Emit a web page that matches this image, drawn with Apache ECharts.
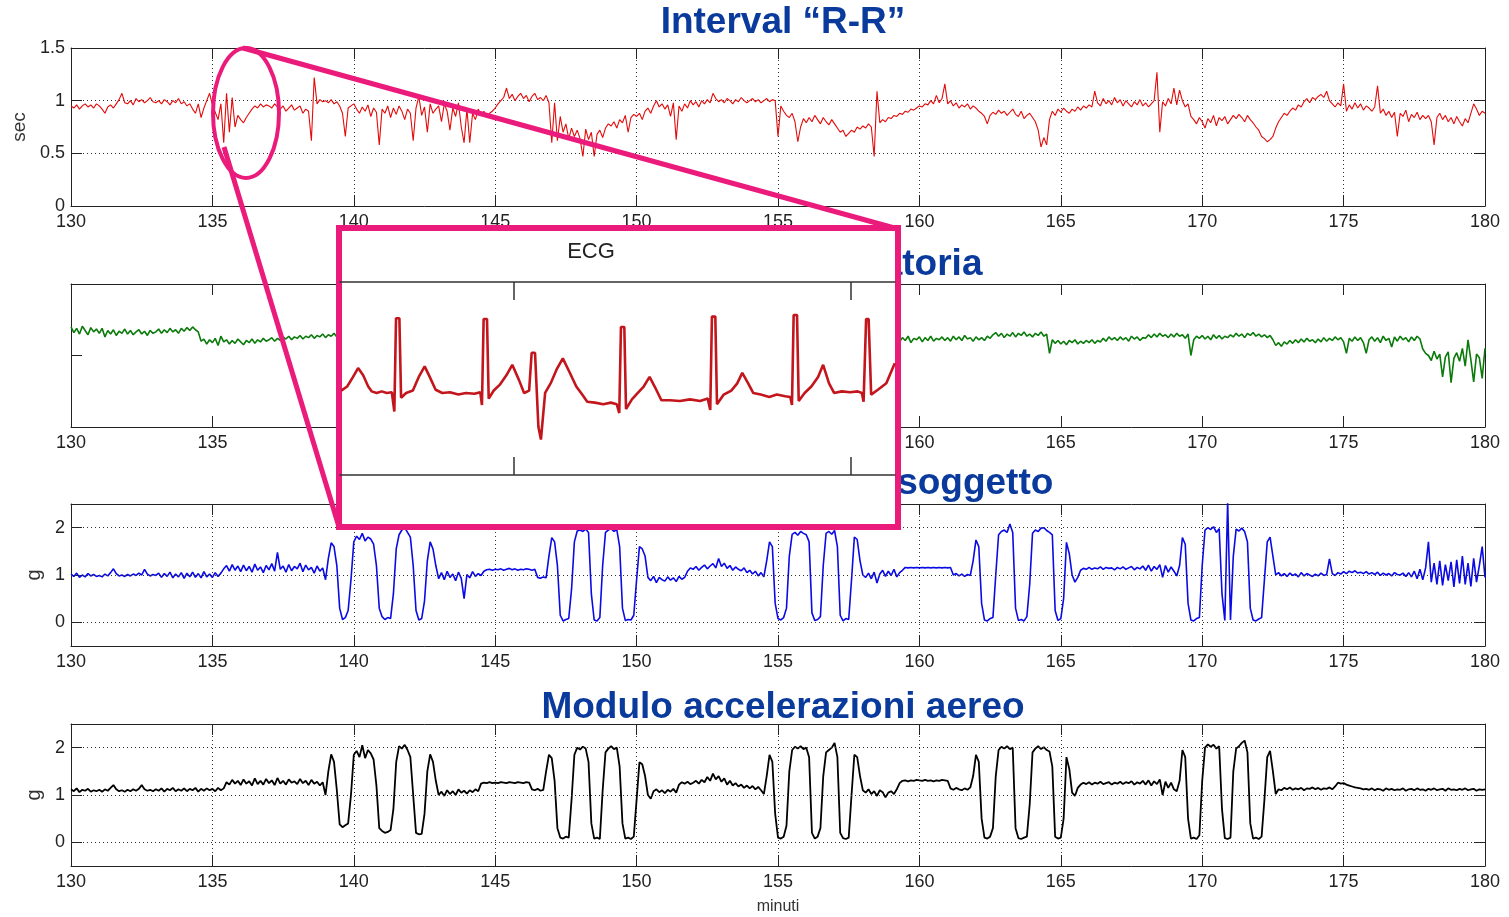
<!DOCTYPE html>
<html><head><meta charset="utf-8">
<script src="https://cdn.jsdelivr.net/npm/echarts@6/dist/echarts.min.js"></script>
<style>html,body{margin:0;padding:0;background:#fff}#c{width:1509px;height:917px}</style>
</head><body><div id="c"></div>
<script>
// ---- sampling of the long recordings (minutes) ----
const T0 = 130, STEP = 0.1;
const X_MIN = 130, X_MAX = 180, X_INTERVAL = 5;

// Interval R-R (sec)
const RR = [
0.95,0.93,0.96,0.92,0.95,0.97,0.94,0.96,0.93,0.97,
0.95,0.92,0.88,0.94,0.96,0.93,0.97,1.01,1.07,0.98,
0.97,1.00,0.96,1.02,0.99,1.01,0.98,1.00,1.03,0.99,
0.98,1.00,0.97,1.01,0.99,0.96,1.00,0.98,1.02,0.97,
0.99,0.95,0.97,0.92,0.88,0.97,0.84,0.93,1.00,1.07,
0.96,0.89,0.82,0.97,0.60,1.07,0.70,1.03,0.75,0.86,
0.82,0.79,0.84,0.88,0.92,0.95,0.93,0.97,0.94,0.96,
0.95,0.93,0.97,0.94,0.92,0.95,0.90,0.93,0.96,0.91,
0.93,0.95,0.88,0.92,0.90,0.62,1.22,0.97,1.01,0.99,
1.00,0.98,1.01,0.97,0.99,0.95,0.88,0.66,0.93,0.95,
0.97,0.92,0.88,0.94,0.90,0.96,0.85,0.93,0.89,0.58,
0.92,0.88,0.95,0.84,0.93,0.87,0.95,0.90,0.82,0.92,
0.88,0.62,0.93,1.04,0.86,0.94,0.70,0.97,0.88,0.92,
0.95,0.80,0.97,0.90,0.72,0.93,0.85,0.98,0.75,0.60,
0.92,0.60,0.88,0.82,0.92,0.86,0.90,0.84,0.88,0.90,
0.93,0.97,1.00,1.03,1.12,1.02,1.06,1.00,1.04,1.07,
1.02,1.05,0.99,1.04,1.07,1.01,1.03,1.00,1.05,0.98,
0.60,0.98,0.62,0.85,0.70,0.78,0.64,0.74,0.66,0.72,
0.64,0.47,0.73,0.63,0.70,0.47,0.68,0.72,0.65,0.74,
0.78,0.76,0.80,0.74,0.82,0.79,0.86,0.70,0.84,0.87,
0.85,0.88,0.82,0.90,0.93,0.88,0.95,1.00,0.94,0.97,
0.92,0.96,0.85,0.98,0.63,0.95,0.90,0.97,0.93,1.00,
0.96,0.99,0.94,1.00,0.97,1.01,0.98,1.07,1.02,0.99,
1.01,0.98,1.02,1.00,0.97,1.01,0.99,1.03,1.00,0.98,
1.00,1.02,0.99,1.01,0.98,1.00,1.02,0.99,1.01,1.00,
0.66,0.95,0.90,0.86,0.84,0.88,0.80,0.61,0.75,0.83,
0.79,0.84,0.80,0.86,0.82,0.78,0.84,0.80,0.77,0.82,
0.78,0.74,0.70,0.72,0.66,0.69,0.72,0.70,0.75,0.73,
0.76,0.74,0.78,0.75,0.47,1.09,0.79,0.82,0.80,0.84,
0.83,0.86,0.85,0.88,0.87,0.90,0.89,0.92,0.91,0.93,
0.95,0.94,0.97,0.96,1.00,0.97,1.05,0.98,1.02,1.16,
0.97,1.00,0.95,0.98,0.93,0.96,0.94,0.97,0.92,0.95,
0.93,0.90,0.88,0.85,0.78,0.86,0.89,0.87,0.91,0.88,
0.90,0.86,0.89,0.92,0.87,0.85,0.90,0.83,0.86,0.88,
0.84,0.80,0.72,0.56,0.65,0.58,0.82,0.90,0.86,0.92,
0.89,0.93,0.90,0.88,0.92,0.90,0.94,0.91,0.95,0.93,
0.96,0.94,1.09,0.98,0.95,1.02,0.97,1.00,0.96,1.03,
0.98,1.01,0.95,1.00,0.97,0.94,0.99,0.96,1.01,0.95,
0.98,0.94,0.97,1.00,1.27,0.70,0.99,0.95,1.02,0.97,
1.12,0.96,1.10,1.00,0.94,0.97,0.85,0.82,0.78,0.84,
0.80,0.74,0.83,0.79,0.86,0.76,0.84,0.81,0.85,0.78,
0.82,0.86,0.83,0.87,0.84,0.80,0.86,0.82,0.79,0.75,
0.72,0.66,0.64,0.61,0.63,0.66,0.74,0.80,0.84,0.88,
0.86,0.90,0.93,0.91,0.96,0.94,0.99,1.02,0.98,1.03,
1.01,1.04,1.06,1.03,1.09,1.00,0.97,0.94,0.98,0.95,
1.16,0.90,0.96,0.92,0.98,0.93,0.97,0.91,0.95,0.93,
0.90,0.94,1.14,0.88,0.92,0.86,0.90,0.84,0.89,0.66,
0.88,0.85,0.91,0.80,0.87,0.84,0.89,0.82,0.86,0.83,
0.86,0.80,0.58,0.84,0.88,0.82,0.86,0.80,0.84,0.78,
0.85,0.80,0.76,0.83,0.79,0.88,0.97,0.92,0.86,0.90,
0.88];

// Respiratory signal (arbitrary units)
const RESP = [
1.40,1.32,1.38,1.30,1.41,1.35,1.29,1.39,1.33,1.37,
1.31,1.38,1.26,1.35,1.30,1.36,1.28,1.34,1.31,1.37,
1.30,1.35,1.29,1.33,1.36,1.30,1.34,1.28,1.35,1.31,
1.33,1.37,1.31,1.36,1.32,1.38,1.33,1.36,1.31,1.38,
1.34,1.39,1.35,1.40,1.36,1.33,1.20,1.23,1.16,1.22,
1.18,1.24,1.14,1.27,1.19,1.22,1.16,1.21,1.17,1.23,
1.19,1.15,1.21,1.18,1.23,1.17,1.22,1.19,1.24,1.20,
1.22,1.25,1.20,1.24,1.21,1.26,1.23,1.27,1.22,1.26,
1.24,1.28,1.23,1.27,1.25,1.29,1.24,1.28,1.26,1.30,
1.25,1.29,1.27,1.31,1.26,1.30,1.28,1.26,1.30,1.27,
1.29,1.26,1.31,1.27,1.30,1.25,1.29,1.27,1.32,1.28,
1.30,1.26,1.29,1.31,1.27,1.30,1.26,1.29,1.32,1.28,
1.27,1.30,1.25,1.29,1.31,1.26,1.28,1.30,1.25,1.29,
1.31,1.27,1.29,1.26,1.30,1.28,1.32,1.27,1.29,1.31,
1.28,1.25,1.29,1.27,1.30,1.26,1.28,1.31,1.27,1.29,
1.26,1.30,1.28,1.25,1.29,1.27,1.31,1.28,1.26,1.30,
1.27,1.29,1.25,1.28,1.30,1.26,1.29,1.27,1.31,1.28,
1.25,1.29,1.27,1.30,1.26,1.28,1.24,1.29,1.27,1.25,
1.28,1.26,1.30,1.25,1.27,1.29,1.26,1.28,1.24,1.27,
1.29,1.25,1.28,1.26,1.30,1.27,1.25,1.29,1.26,1.28,
1.24,1.27,1.29,1.25,1.28,1.26,1.23,1.27,1.25,1.29,
1.26,1.24,1.28,1.25,1.27,1.23,1.26,1.28,1.24,1.27,
1.25,1.28,1.23,1.26,1.24,1.27,1.25,1.22,1.26,1.24,
1.27,1.23,1.25,1.28,1.24,1.26,1.22,1.25,1.27,1.23,
1.26,1.24,1.21,1.25,1.23,1.27,1.24,1.22,1.26,1.23,
1.25,1.21,1.24,1.26,1.22,1.25,1.23,1.20,1.24,1.22,
1.26,1.23,1.21,1.25,1.22,1.24,1.20,1.23,1.25,1.21,
1.24,1.22,1.25,1.20,1.23,1.21,1.24,1.22,1.19,1.23,
1.21,1.24,1.20,1.23,1.21,1.25,1.22,1.19,1.23,1.21,
1.24,1.20,1.26,1.19,1.25,1.21,1.27,1.18,1.24,1.22,
1.26,1.19,1.25,1.21,1.27,1.20,1.24,1.22,1.26,1.21,
1.25,1.20,1.27,1.22,1.26,1.21,1.28,1.23,1.25,1.20,
1.26,1.22,1.25,1.21,1.27,1.24,1.29,1.32,1.27,1.31,
1.25,1.30,1.27,1.32,1.26,1.31,1.28,1.33,1.27,1.30,
1.26,1.31,1.28,1.33,1.27,1.30,1.03,1.22,1.17,1.21,
1.16,1.20,1.15,1.21,1.18,1.22,1.16,1.20,1.17,1.21,
1.18,1.22,1.17,1.21,1.19,1.24,1.20,1.26,1.22,1.25,
1.21,1.26,1.22,1.25,1.20,1.27,1.23,1.26,1.21,1.25,
1.24,1.29,1.25,1.30,1.26,1.31,1.27,1.29,1.25,1.30,
1.26,1.31,1.27,1.29,1.24,1.30,1.00,1.22,1.27,1.24,
1.28,1.23,1.27,1.22,1.29,1.24,1.28,1.23,1.27,1.25,
1.29,1.26,1.31,1.27,1.30,1.25,1.31,1.28,1.32,1.27,
1.30,1.26,1.29,1.25,1.28,1.22,1.14,1.18,1.13,1.19,
1.16,1.21,1.17,1.22,1.18,1.23,1.19,1.24,1.20,1.22,
1.18,1.23,1.19,1.25,1.20,1.24,1.21,1.26,1.22,1.25,
1.19,1.03,1.24,1.20,1.26,1.21,1.25,1.18,1.03,1.22,
1.26,1.20,1.25,1.18,1.27,1.21,1.24,1.12,1.26,1.20,
1.27,1.22,1.25,1.19,1.26,1.21,1.27,1.23,1.09,1.03,
1.00,0.93,1.06,0.95,1.02,0.70,0.98,1.05,0.62,0.96,
1.04,0.92,1.10,0.85,1.22,0.94,0.63,1.02,0.97,0.68,
1.10];

// Modulo accelerazioni soggetto (g)
const ACC_SUBJ = [
1.02,0.97,1.04,0.95,1.00,0.96,1.03,0.98,1.01,0.97,
0.99,0.96,1.02,0.98,1.05,1.13,1.03,0.98,1.00,0.97,
1.01,0.98,1.02,0.99,1.04,1.00,1.12,1.02,0.98,1.01,
0.99,1.04,0.95,1.03,0.97,1.06,0.94,1.02,0.96,1.05,
0.93,1.04,0.96,1.06,0.95,1.03,0.94,1.07,0.96,1.02,
0.95,1.05,0.97,1.04,1.13,1.20,1.08,1.22,1.10,1.19,
1.07,1.21,1.09,1.18,1.06,1.23,1.10,1.17,1.05,1.20,
1.11,1.24,1.08,1.48,1.12,1.19,1.06,1.22,1.09,1.18,
1.13,1.25,1.07,1.21,1.11,1.16,1.04,1.19,1.08,1.15,
0.90,1.35,1.68,1.60,1.20,0.30,0.06,0.10,0.25,0.90,
1.70,1.82,1.75,1.88,1.72,1.80,1.76,1.65,1.20,0.30,
0.12,0.06,0.10,0.08,0.60,1.55,1.85,1.95,2.00,1.90,
1.80,1.20,0.25,0.05,0.08,0.45,1.30,1.70,1.55,1.20,
0.92,1.05,0.90,1.08,0.95,1.02,0.88,1.06,0.93,0.50,
1.01,0.94,1.07,0.97,1.03,0.99,1.08,1.11,1.12,1.10,
1.12,1.11,1.13,1.10,1.12,1.14,1.11,1.13,1.10,1.12,
1.11,1.13,1.12,1.10,1.12,0.95,0.93,0.96,0.94,1.40,
1.79,1.70,1.20,0.15,0.03,0.06,0.08,0.70,1.70,1.93,
1.95,1.92,1.97,1.90,0.60,0.05,0.03,0.10,1.20,1.90,
1.95,1.98,1.92,1.96,1.60,0.30,0.04,0.06,0.05,0.15,
0.90,1.60,1.55,1.40,0.95,0.88,0.97,0.84,0.95,0.90,
0.87,0.96,0.89,0.94,0.86,0.97,0.91,0.95,1.08,1.15,
1.12,1.18,1.10,1.16,1.21,1.13,1.19,1.24,1.15,1.35,
1.18,1.25,1.14,1.20,1.10,1.17,1.12,1.09,1.15,1.05,
1.10,1.02,1.08,0.98,1.05,0.96,1.30,1.70,1.60,0.40,
0.08,0.05,0.10,0.30,1.40,1.86,1.90,1.84,1.92,1.88,
1.85,1.70,0.20,0.04,0.06,0.12,1.20,1.88,1.92,1.86,
1.94,1.60,0.15,0.03,0.08,0.06,0.90,1.80,1.75,1.30,
1.00,0.95,1.04,0.92,1.06,0.83,1.02,1.10,0.97,1.08,
0.99,1.12,0.96,1.05,1.10,1.16,1.15,1.16,1.15,1.16,
1.15,1.16,1.15,1.16,1.15,1.16,1.15,1.16,1.15,1.16,
1.15,1.16,1.00,1.03,0.98,1.02,0.97,1.01,0.99,1.30,
1.74,1.60,0.40,0.05,0.03,0.08,0.10,1.00,1.85,1.92,
1.95,1.90,2.08,1.90,0.30,0.04,0.06,0.03,0.12,0.80,
1.88,1.95,1.92,1.99,2.00,1.94,1.90,1.85,0.25,0.04,
0.08,0.50,1.69,1.45,1.00,0.85,0.95,1.10,1.14,1.12,
1.16,1.12,1.15,1.13,1.17,1.12,1.16,1.14,1.15,1.11,
1.16,1.13,1.17,1.12,1.15,1.18,1.11,1.16,1.13,1.19,
1.10,1.21,1.08,1.18,1.12,1.22,0.95,1.20,1.06,1.17,
1.08,0.98,1.20,1.79,1.65,0.40,0.05,0.03,0.08,0.10,
1.20,1.95,2.00,1.96,2.02,1.90,1.98,0.60,0.04,2.55,
0.05,1.40,1.97,1.93,1.99,1.92,1.70,0.30,0.05,0.03,
0.07,0.10,0.90,1.70,1.80,1.40,1.00,1.05,0.98,1.03,
0.97,1.04,0.99,1.02,0.96,1.05,0.98,1.03,1.00,0.97,
1.02,0.98,1.04,0.99,1.01,1.34,1.03,0.99,1.05,1.02,
1.07,1.03,1.08,1.05,1.09,1.04,1.06,1.03,1.07,1.02,
1.05,1.01,1.06,0.99,1.04,1.00,1.03,0.98,1.05,1.01,
1.00,1.04,0.97,1.05,0.96,1.08,0.92,1.12,0.90,1.15,
1.70,0.85,1.25,0.80,1.30,0.78,1.22,0.88,1.28,0.75,
1.32,0.82,1.40,0.80,1.25,0.76,1.35,0.85,1.20,1.60,
0.95];

// Modulo accelerazioni aereo (g)
const ACC_AIR = [
1.12,1.08,1.14,1.06,1.11,1.09,1.13,1.07,1.10,1.08,
1.11,1.07,1.12,1.09,1.15,1.21,1.12,1.08,1.10,1.07,
1.11,1.08,1.12,1.09,1.13,1.21,1.12,1.09,1.11,1.08,
1.12,1.09,1.14,1.07,1.13,1.10,1.15,1.08,1.12,1.09,
1.14,1.08,1.13,1.10,1.15,1.07,1.13,1.09,1.14,1.10,
1.13,1.08,1.15,1.10,1.14,1.27,1.22,1.32,1.24,1.30,
1.21,1.33,1.24,1.29,1.20,1.35,1.23,1.30,1.22,1.34,
1.25,1.31,1.21,1.36,1.24,1.30,1.22,1.33,1.26,1.29,
1.23,1.34,1.25,1.30,1.21,1.32,1.24,1.28,1.20,1.27,
1.00,1.50,1.86,1.70,1.10,0.38,0.32,0.36,0.40,1.00,
1.85,1.93,1.80,2.05,1.78,1.95,1.88,1.75,1.20,0.30,
0.24,0.20,0.22,0.26,0.70,1.70,2.03,1.98,2.06,1.95,
1.80,1.00,0.20,0.17,0.18,0.60,1.50,1.86,1.70,1.30,
1.00,1.07,0.98,1.10,1.02,1.08,1.00,1.12,1.05,1.09,
1.03,1.10,1.06,1.12,1.08,1.24,1.26,1.25,1.27,1.25,
1.26,1.25,1.27,1.26,1.25,1.27,1.26,1.25,1.27,1.26,
1.25,1.27,1.26,1.12,1.10,1.13,1.09,1.11,1.50,1.85,
1.78,1.30,0.30,0.10,0.08,0.12,0.10,0.90,1.85,2.00,
1.96,2.02,1.98,1.70,0.40,0.08,0.10,0.07,1.10,1.90,
1.98,2.03,1.97,2.00,1.60,0.40,0.08,0.10,0.07,0.12,
0.90,1.69,1.65,1.40,1.00,0.92,1.08,1.12,1.06,1.10,
1.04,1.11,1.07,1.13,1.05,1.22,1.27,1.24,1.28,1.23,
1.26,1.30,1.24,1.32,1.27,1.38,1.30,1.45,1.33,1.40,
1.28,1.35,1.22,1.30,1.20,1.25,1.18,1.22,1.15,1.20,
1.14,1.19,1.12,1.17,1.10,1.02,1.40,1.85,1.70,0.60,
0.10,0.08,0.12,0.35,1.50,1.95,2.02,1.98,2.03,1.97,
2.00,1.80,0.20,0.08,0.12,0.30,1.40,1.90,1.95,2.00,
2.10,1.80,0.20,0.09,0.07,0.10,1.00,1.85,1.80,1.40,
1.10,1.05,1.12,1.02,1.08,0.98,1.10,1.06,0.95,1.05,
1.08,1.02,1.12,1.25,1.30,1.31,1.29,1.31,1.30,1.32,
1.31,1.30,1.32,1.30,1.31,1.29,1.31,1.30,1.32,1.31,
1.30,1.14,1.11,1.15,1.12,1.10,1.14,1.11,1.16,1.40,
1.85,1.70,0.50,0.10,0.08,0.12,0.30,1.40,1.95,2.02,
1.98,2.03,1.97,2.00,0.30,0.09,0.07,0.10,0.12,0.80,
1.90,1.98,2.03,1.97,2.01,1.95,1.92,1.60,0.12,0.08,
0.10,0.50,1.80,1.55,1.05,0.98,1.15,1.22,1.26,1.23,
1.27,1.22,1.26,1.24,1.28,1.23,1.25,1.27,1.22,1.26,
1.24,1.28,1.23,1.27,1.25,1.29,1.22,1.27,1.24,1.30,
1.22,1.31,1.20,1.29,1.23,1.33,1.00,1.28,1.15,1.26,
1.12,1.08,1.30,1.95,1.80,0.50,0.08,0.10,0.07,0.15,
1.30,2.00,2.07,2.02,2.06,1.98,2.03,0.70,0.09,0.07,
0.10,1.50,1.98,2.03,2.10,2.15,1.90,0.40,0.08,0.10,
0.07,0.12,0.90,1.80,1.93,1.50,1.02,1.12,1.10,1.15,
1.12,1.16,1.11,1.14,1.12,1.15,1.10,1.14,1.13,1.16,
1.12,1.15,1.11,1.14,1.13,1.16,1.12,1.18,1.26,1.24,
1.25,1.22,1.20,1.18,1.16,1.15,1.14,1.12,1.13,1.11,
1.14,1.10,1.13,1.12,1.09,1.14,1.11,1.13,1.10,1.12,
1.11,1.14,1.09,1.12,1.13,1.10,1.14,1.11,1.12,1.09,
1.13,1.11,1.14,1.10,1.12,1.13,1.09,1.14,1.11,1.12,
1.10,1.13,1.11,1.14,1.10,1.12,1.13,1.09,1.12,1.11,
1.12];

// ECG inset: time (s) and amplitude (mV)
const ECG_T = [1.95,2.02,2.09,2.15,2.21,2.27,2.31,2.37,2.43,2.49,2.55,2.58,2.60,2.64,2.66,2.72,2.80,2.87,2.94,3.00,
3.07,3.15,3.24,3.34,3.43,3.53,3.60,3.62,3.64,3.68,3.70,3.76,3.83,3.91,3.98,4.06,4.12,4.18,4.21,4.25,
4.29,4.32,4.37,4.44,4.51,4.58,4.65,4.74,4.81,4.87,4.96,5.06,5.15,5.22,5.25,5.27,5.31,5.33,5.40,5.47,
5.54,5.61,5.67,5.75,5.85,5.97,6.09,6.21,6.30,6.33,6.35,6.39,6.41,6.49,6.58,6.65,6.71,6.78,6.84,6.93,
7.03,7.12,7.22,7.28,7.30,7.32,7.36,7.38,7.45,7.53,7.61,7.67,7.74,7.80,7.89,7.99,8.08,8.13,8.15,8.18,
8.21,8.24,8.32,8.42,8.52];
const ECG_V = [0.05,0.10,0.22,0.33,0.24,0.10,0.04,0.02,0.04,0.02,0.03,-0.21,0.95,0.95,-0.04,0.02,0.05,0.22,0.35,0.22,
0.06,0.02,0.03,0.00,0.02,0.01,0.03,-0.13,0.94,0.94,-0.05,0.05,0.12,0.24,0.37,0.18,0.02,0.05,0.52,0.52,
-0.40,-0.56,0.02,0.15,0.32,0.45,0.30,0.10,0.00,-0.09,-0.10,-0.12,-0.10,-0.12,-0.23,0.84,0.84,-0.18,-0.06,0.02,
0.10,0.22,0.10,-0.07,-0.07,-0.08,-0.06,-0.08,-0.05,-0.19,0.97,0.97,-0.12,0.00,0.05,0.14,0.27,0.14,0.02,0.00,
-0.03,0.00,-0.02,-0.03,-0.13,0.99,0.99,-0.08,0.02,0.10,0.22,0.37,0.14,0.02,0.04,0.03,0.04,0.02,-0.09,0.94,
0.94,0.00,0.06,0.14,0.39];
const ECG_MIN = 1.935, ECG_MAX = 8.523, ECG_TICKS = [4, 8];

const G_TICKS = [0, 1, 2];
const TITLES = ['Interval \u201cR-R\u201d', 'Frequenza respiratoria', 'Modulo accelerazioni soggetto', 'Modulo accelerazioni aereo'];

// ---- styling ----
const FONT = '"Liberation Sans Narrow","Arial Narrow","Liberation Sans",Arial,sans-serif';
const MAG = '#eb1b7b';
const AX = '#222';
const dotted = {color: '#333', width: 1, type: [1, 3]};
const pairs = arr => arr.map((v, i) => [+(T0 + i * STEP).toFixed(2), v]);

const gridsPos = [
  {left: 71, top: 48, width: 1414, height: 158},
  {left: 71, top: 284, width: 1414, height: 143},
  {left: 71, top: 504, width: 1414, height: 142},
  {left: 71, top: 724, width: 1414, height: 142},
  {left: 340, top: 282, width: 555, height: 193}
];

const xAxes = [], yAxes = [];
for (let g = 0; g < 4; g++) {
  xAxes.push({
    type: 'value', gridIndex: g, position: 'bottom', min: X_MIN, max: X_MAX, interval: X_INTERVAL,
    axisLine: {show: true, onZero: false, lineStyle: {color: AX, width: 1}},
    axisTick: {show: true, inside: true, length: 11, lineStyle: {color: AX}},
    axisLabel: {show: true, color: '#222', fontFamily: FONT, fontSize: 18, margin: 7},
    splitLine: {show: g !== 1, lineStyle: dotted},
    name: g === 3 ? 'minuti' : '', nameLocation: 'middle', nameGap: 33,
    nameTextStyle: {color: '#333', fontFamily: FONT, fontSize: 16}
  });
  xAxes.push({
    type: 'value', gridIndex: g, position: 'top', min: X_MIN, max: X_MAX, interval: X_INTERVAL,
    axisLine: {show: true, onZero: false, lineStyle: {color: AX, width: 1}},
    axisTick: {show: true, inside: true, length: 11, lineStyle: {color: AX}},
    axisLabel: {show: false}, splitLine: {show: false}
  });
}
// panel 1 (sec)
yAxes.push({type: 'value', gridIndex: 0, position: 'left', min: 0, max: 1.5, interval: 0.5,
  axisLine: {show: true, lineStyle: {color: AX}}, axisTick: {show: true, inside: true, length: 11, lineStyle: {color: AX}},
  axisLabel: {color: '#222', fontFamily: FONT, fontSize: 18, margin: 6}, splitLine: {show: true, lineStyle: dotted},
  name: 'sec', nameLocation: 'middle', nameGap: 40, nameTextStyle: {color: '#333', fontFamily: FONT, fontSize: 19}});
yAxes.push({type: 'value', gridIndex: 0, position: 'right', min: 0, max: 1.5, interval: 0.5,
  axisLine: {show: true, lineStyle: {color: AX}}, axisTick: {show: true, inside: true, length: 11, lineStyle: {color: AX}},
  axisLabel: {show: false}, splitLine: {show: false}});
// panel 2 (respiration)
yAxes.push({type: 'value', gridIndex: 1, position: 'left', min: 0, max: 2, interval: 1,
  axisLine: {show: true, lineStyle: {color: AX}}, axisTick: {show: true, inside: true, length: 11, lineStyle: {color: AX}},
  axisLabel: {show: false}, splitLine: {show: false}});
yAxes.push({type: 'value', gridIndex: 1, position: 'right', min: 0, max: 2, interval: 1,
  axisLine: {show: true, lineStyle: {color: AX}}, axisTick: {show: false},
  axisLabel: {show: false}, splitLine: {show: false}});
// panels 3,4 (g)
for (let g = 2; g < 4; g++) {
  yAxes.push({type: 'value', gridIndex: g, position: 'left', min: -0.5, max: 2.5,
    axisLine: {show: true, lineStyle: {color: AX}},
    axisTick: {show: true, inside: true, length: 11, customValues: G_TICKS, lineStyle: {color: AX}},
    axisLabel: {color: '#222', fontFamily: FONT, fontSize: 18, margin: 6, customValues: G_TICKS},
    splitLine: {show: false},
    name: 'g', nameLocation: 'middle', nameGap: 23, nameTextStyle: {color: '#333', fontFamily: FONT, fontSize: 20}});
  yAxes.push({type: 'value', gridIndex: g, position: 'right', min: -0.5, max: 2.5,
    axisLine: {show: true, lineStyle: {color: AX}},
    axisTick: {show: true, inside: true, length: 11, customValues: G_TICKS, lineStyle: {color: AX}},
    axisLabel: {show: false}, splitLine: {show: false}});
}
// inset ECG axes
xAxes.push({type: 'value', gridIndex: 4, position: 'bottom', min: ECG_MIN, max: ECG_MAX, z: 110,
  axisLine: {show: true, onZero: false, lineStyle: {color: '#333', width: 1.5}},
  axisTick: {show: true, inside: true, length: 18, customValues: ECG_TICKS, lineStyle: {color: '#333', width: 1.5}},
  axisLabel: {show: false}, splitLine: {show: false}});
xAxes.push({type: 'value', gridIndex: 4, position: 'top', min: ECG_MIN, max: ECG_MAX, z: 110,
  axisLine: {show: true, onZero: false, lineStyle: {color: '#333', width: 1.5}},
  axisTick: {show: true, inside: true, length: 18, customValues: ECG_TICKS, lineStyle: {color: '#333', width: 1.5}},
  axisLabel: {show: false}, splitLine: {show: false}});
yAxes.push({type: 'value', gridIndex: 4, min: -1, max: 1.4, show: false});

const lineSeries = (name, data, xi, yi, color, w, z) => ({
  name, type: 'line', xAxisIndex: xi, yAxisIndex: yi, data, showSymbol: false, symbol: 'none',
  sampling: null, lineStyle: {color, width: w}, itemStyle: {color}, z: z || 2, silent: true, clip: true
});
const gridLines = (xi, yi) => ({
  type: 'line', xAxisIndex: xi, yAxisIndex: yi, data: [], z: 1, silent: true,
  markLine: {silent: true, symbol: 'none', label: {show: false}, lineStyle: dotted, animation: false,
    data: G_TICKS.map(v => ({yAxis: v}))}
});

const option = {
  animation: false,
  backgroundColor: '#fff',
  title: TITLES.map((t, i) => ({
    text: t, left: 783, top: [4, 246, 465, 689][i], textAlign: 'center', padding: 0,
    textStyle: {color: '#0a3a9c', fontFamily: '"Liberation Sans",Arial,sans-serif', fontWeight: 'bold', fontSize: 37}
  })),
  grid: gridsPos.map(p => Object.assign({containLabel: false, show: false}, p)),
  xAxis: xAxes,
  yAxis: yAxes,
  series: [
    lineSeries('Interval R-R', pairs(RR), 0, 0, '#e30a0a', 1.1),
    lineSeries('Respirazione', pairs(RESP), 2, 2, '#0a7a0a', 1.6),
    gridLines(4, 4),
    lineSeries('Acc. soggetto', pairs(ACC_SUBJ), 4, 4, '#0a0ae6', 1.6),
    gridLines(6, 6),
    lineSeries('Acc. aereo', pairs(ACC_AIR), 6, 6, '#000000', 1.8),
    lineSeries('ECG', ECG_T.map((t, i) => [t, ECG_V[i]]), 8, 8, '#c3151c', 2.6, 120)
  ],
  graphic: [
    {type: 'rect', z: 100, shape: {x: 339, y: 228, width: 559, height: 299}, style: {fill: '#fff', stroke: MAG, lineWidth: 6}},
    {type: 'line', z: 101, shape: {x1: 243, y1: 48, x2: 898, y2: 229}, style: {stroke: MAG, lineWidth: 5}},
    {type: 'line', z: 101, shape: {x1: 224, y1: 147, x2: 339, y2: 527}, style: {stroke: MAG, lineWidth: 5}},
    {type: 'ellipse', z: 101, shape: {cx: 246, cy: 113, rx: 33, ry: 65}, style: {fill: 'none', stroke: MAG, lineWidth: 4}},
    {type: 'text', z: 121, x: 591, y: 252, style: {text: 'ECG', font: '22px "Liberation Sans", Arial, sans-serif', fill: '#222', textAlign: 'center', textVerticalAlign: 'middle'}}
  ]
};

const chart = echarts.init(document.getElementById('c'), null, {renderer: 'canvas'});
chart.setOption(option);
</script>
</body></html>
